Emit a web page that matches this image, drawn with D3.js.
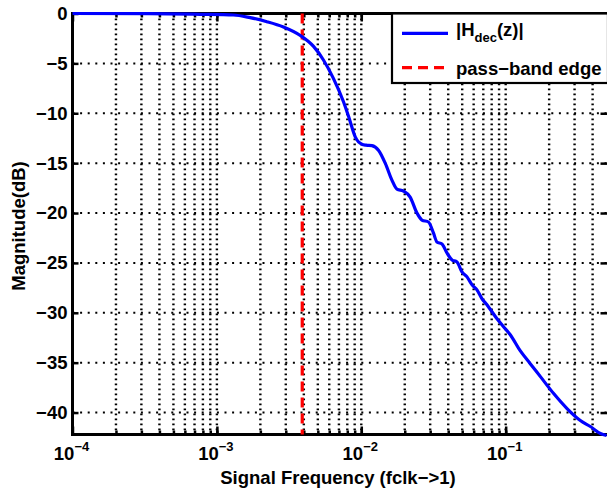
<!DOCTYPE html>
<html>
<head>
<meta charset="utf-8">
<script src="https://cdn.jsdelivr.net/npm/d3@7"></script>
<style>
  body { margin: 0; background: #fff; }
  svg { display: block; }
  text { font-family: "Liberation Sans", Arial, sans-serif; font-weight: bold; }
</style>
</head>
<body>
<svg id="chart" width="607" height="489"></svg>
<script>
// |H_dec(z)| (frequency normalised to fclk, dB)
var freq = [1e-4, 3.44e-4, 7.66e-4, 1.30e-3, 1.70e-3, 2.22e-3, 2.89e-3, 3.78e-3, 4.67e-3, 5.47e-3,
            6.41e-3, 7.53e-3, 8.24e-3, 9.08e-3, 1.009e-2, 1.081e-2, 1.183e-2, 1.315e-2, 1.465e-2, 1.63e-2,
            1.766e-2, 1.96e-2, 2.18e-2, 2.43e-2, 2.63e-2, 2.92e-2, 3.16e-2, 3.34e-2, 3.62e-2, 3.92e-2,
            4.25e-2, 4.60e-2, 4.98e-2, 5.40e-2, 5.85e-2, 6.33e-2, 6.86e-2, 7.42e-2, 8.04e-2, 8.71e-2,
            9.66e-2, 0.1076, 0.126, 0.148, 0.174, 0.215, 0.266, 0.329, 0.386, 0.453, 0.5];
var mag = [0, -0.01, -0.08, -0.15, -0.42, -0.82, -1.35, -2.2, -3.3, -4.66,
           -6.5, -8.85, -10.5, -12.36, -13.1, -13.2, -13.25, -13.7, -15.0, -16.7,
           -17.6, -17.8, -18.4, -20.0, -20.7, -20.9, -22.0, -22.9, -23.1, -24.0,
           -24.7, -24.9, -25.9, -26.4, -27.2, -27.7, -28.6, -29.2, -29.9, -30.6,
           -31.4, -32.2, -33.8, -35.1, -36.4, -38.1, -39.6, -40.8, -41.4, -42.1, -42.3];
var edge_freq = [0.0039];
var y_ticks = [0, -5, -10, -15, -20, -25, -30, -35, -40];
var x_major = [1e-4, 1e-3, 1e-2, 1e-1];
var x_exponents = ["−4", "−3", "−2", "−1"];
var legend_names = ["|H", "dec", "(z)|", "pass−band edge"];

function draw_chart(){
    var svg = d3.select("#chart");
    var left = 72.5, top = 13.5, right = 606.6, bottom = 434.5, right_axis = 608.5;

    var x = d3.scaleLog().domain([1e-4, 0.5]).range([left, right]);
    var y = d3.scaleLinear().domain([-42.2, 0]).range([bottom, top]);

    var x_minor = x.ticks().filter(function(d){ return d > 1e-4 && d < 0.5; });

    // dotted grid
    var grid = svg.append("g").attr("id", "grid");
    grid.selectAll(".vgrid").data(x_minor).enter().append("line")
        .attr("x1", function(d){ return x(d); }).attr("x2", function(d){ return x(d); })
        .attr("y1", top).attr("y2", bottom)
        .attr("stroke", "#000").attr("stroke-width", 2.4)
        .attr("stroke-dasharray", "1.7,3.3");
    grid.selectAll(".hgrid").data(y_ticks.filter(function(d){ return d < 0; })).enter().append("line")
        .attr("x1", left).attr("x2", right_axis)
        .attr("y1", function(d){ return y(d); }).attr("y2", function(d){ return y(d); })
        .attr("stroke", "#000").attr("stroke-width", 2)
        .attr("stroke-dasharray", "2,5.6");

    // axes, ticks pointing inward
    var ax = svg.append("g").attr("id", "axes");
    var yl = ax.append("g").attr("transform", "translate(" + left + ",0)")
        .call(d3.axisLeft(y).tickValues(y_ticks).tickSize(-6).tickPadding(5)
              .tickFormat(function(d){ return d === 0 ? "0" : "−" + Math.abs(d); }));
    yl.selectAll("text").attr("font-size", 18.5).attr("fill", "#000");
    ax.append("g").attr("transform", "translate(" + right_axis + ",0)")
        .call(d3.axisRight(y).tickValues(y_ticks).tickSize(-8).tickFormat(""));
    ax.append("g").attr("transform", "translate(0," + bottom + ")")
        .call(d3.axisBottom(x).tickValues(x_major).tickSize(-8).tickFormat(""));
    ax.append("g").attr("transform", "translate(0," + bottom + ")")
        .call(d3.axisBottom(x).tickValues(x_minor).tickSize(-4).tickFormat(""));
    ax.append("g").attr("transform", "translate(0," + top + ")")
        .call(d3.axisTop(x).tickValues(x_major).tickSize(-8).tickFormat(""));
    ax.append("g").attr("transform", "translate(0," + top + ")")
        .call(d3.axisTop(x).tickValues(x_minor).tickSize(-4).tickFormat(""));
    ax.selectAll(".domain").remove();
    ax.selectAll(".tick line").attr("stroke", "#000").attr("stroke-width", 2.5);

    // box
    ax.append("path")
        .attr("d", "M" + right_axis + "," + top + "H" + left + "V" + bottom + "H" + right_axis)
        .attr("fill", "none").attr("stroke", "#000").attr("stroke-width", 3);

    // x tick labels 10^n
    var xl = svg.append("g").attr("id", "x_labels");
    x_major.forEach(function(d, i){
        var t = xl.append("text").attr("x", x(d) - 1).attr("y", 460)
            .attr("text-anchor", "middle").attr("font-size", 18.5);
        t.append("tspan").text("10");
        t.append("tspan").attr("dy", -9).attr("font-size", 13).text(x_exponents[i]);
    });

    // pass-band edge
    svg.append("line")
        .attr("x1", x(edge_freq[0])).attr("x2", x(edge_freq[0]))
        .attr("y1", top).attr("y2", bottom)
        .attr("stroke", "#ff0000").attr("stroke-width", 3.2)
        .attr("stroke-dasharray", "10,6");

    // response curve
    var pts = freq.map(function(f, i){ return [f, mag[i]]; });
    var line = d3.line()
        .x(function(d){ return x(d[0]); })
        .y(function(d){ return y(d[1]); })
        .curve(d3.curveMonotoneX);
    svg.append("path").datum(pts)
        .attr("d", line)
        .attr("fill", "none").attr("stroke", "#0000ff").attr("stroke-width", 3.2)
        .attr("stroke-linejoin", "round");

    // axis titles
    svg.append("text").attr("x", 338).attr("y", 484)
        .attr("text-anchor", "middle").attr("font-size", 18.5)
        .text("Signal Frequency (fclk−>1)");
    svg.append("text").attr("transform", "translate(25,226)rotate(-90)")
        .attr("text-anchor", "middle").attr("font-size", 18.5)
        .text("Magnitude(dB)");

    // legend
    var lg = svg.append("g").attr("id", "legend");
    lg.append("rect").attr("x", 392).attr("y", top).attr("width", 216).attr("height", 69.5)
        .attr("fill", "#fff").attr("stroke", "#000").attr("stroke-width", 2.2);
    lg.append("line").attr("x1", 402).attr("x2", 448).attr("y1", 33.3).attr("y2", 33.3)
        .attr("stroke", "#0000ff").attr("stroke-width", 3.2);
    lg.append("line").attr("x1", 402).attr("x2", 448).attr("y1", 67.7).attr("y2", 67.7)
        .attr("stroke", "#ff0000").attr("stroke-width", 3.2).attr("stroke-dasharray", "10,6");
    var t1 = lg.append("text").attr("x", 456).attr("y", 36).attr("font-size", 18.5);
    t1.append("tspan").text(legend_names[0]);
    t1.append("tspan").attr("dy", 6).attr("font-size", 13).text(legend_names[1]);
    t1.append("tspan").attr("dy", -6).text(legend_names[2]);
    lg.append("text").attr("x", 456).attr("y", 74.5).attr("font-size", 18.5)
        .text(legend_names[3]);
}

draw_chart();
</script>
</body>
</html>
